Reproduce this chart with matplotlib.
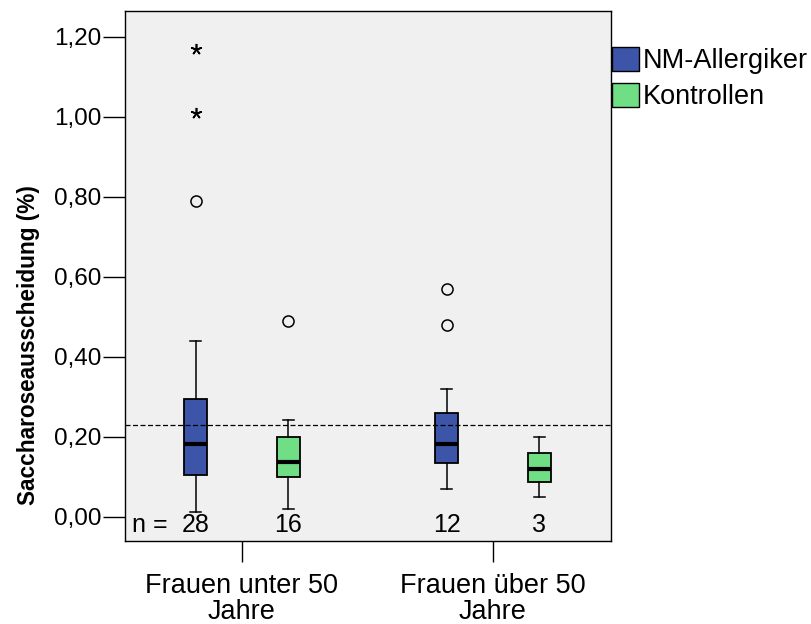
import matplotlib
matplotlib.use("Agg")
import matplotlib.pyplot as plt
from matplotlib.patches import Patch
from matplotlib.ticker import FuncFormatter

plt.rcParams['font.family'] = ['Liberation Sans', 'DejaVu Sans']

groups = ["Frauen unter 50\nJahre", "Frauen über 50\nJahre"]
series = ["NM-Allergiker", "Kontrollen"]
colors = ["#3c55a8", "#6fde84"]

# five-number summaries per group: (whislo, q1, med, q3, whishi)
allergiker = [(0.012, 0.105, 0.182, 0.296, 0.441), (0.071, 0.136, 0.182, 0.261, 0.321)]
kontrollen = [(0.021, 0.100, 0.137, 0.201, 0.242), (0.051, 0.087, 0.121, 0.161, 0.201)]
# outliers (circles) and extremes (stars)
allergiker_out = [[0.79], [0.48, 0.57]]
allergiker_ext = [[1.01, 1.17], []]
kontrollen_out = [[0.49], []]
kontrollen_ext = [[], []]
n_values = [[28, 16], [12, 3]]
ref_line = 0.231

fig = plt.figure(figsize=(8.11, 6.24), dpi=100)
ax = fig.add_axes([125 / 811, 1 - 541 / 624, 486 / 811, 530 / 624])
ax.set_facecolor("#f0f0f0")

offset = 0.185
width = 0.092
for s, (summ, outs, exts) in enumerate([(allergiker, allergiker_out, allergiker_ext),
                                        (kontrollen, kontrollen_out, kontrollen_ext)]):
    stats = []
    pos = []
    for g in range(len(groups)):
        lo, q1, med, q3, hi = summ[g]
        stats.append(dict(whislo=lo, q1=q1, med=med, q3=q3, whishi=hi, fliers=[]))
        pos.append(g + (-offset if s == 0 else offset))
    ax.bxp(stats, positions=pos, widths=width, patch_artist=True, showfliers=False,
           boxprops=dict(facecolor=colors[s], edgecolor="black", linewidth=1.3),
           medianprops=dict(color="black", linewidth=3),
           whiskerprops=dict(color="black", linewidth=1.1),
           capprops=dict(color="black", linewidth=1.1),
           capwidths=width / 2)
    for g in range(len(groups)):
        x = pos[g]
        if outs[g]:
            ax.plot([x] * len(outs[g]), outs[g], "o", mfc="none", mec="black", ms=8, mew=1.1)
        if exts[g]:
            ax.plot([x] * len(exts[g]), exts[g], marker=(5, 2, 0), ls="none",
                    color="black", ms=8, mew=1.2)
        ax.text(x, -0.021, str(n_values[g][s]), ha="center", va="center", fontsize=18)

ax.text(-0.367, -0.021, "n =", ha="center", va="center", fontsize=18)
ax.axhline(ref_line, color="black", linestyle=(0, (4, 2)), linewidth=0.9)

ax.set_xlim(-0.466, 1.470)
ax.set_ylim(-0.06, 1.265)
ax.set_xticks(range(len(groups)))
ax.set_xticklabels(groups, fontsize=19.5, linespacing=1.0)
ax.set_yticks([0, 0.2, 0.4, 0.6, 0.8, 1.0, 1.2])
ax.yaxis.set_major_formatter(FuncFormatter(lambda v, p: f"{v:.2f}".replace(".", ",")))
ax.tick_params(axis="y", labelsize=17.5, length=16, width=1, direction="out", pad=1)
ax.tick_params(axis="x", length=15, width=1, direction="out", pad=8)
ax.set_ylabel("Saccharoseausscheidung (%)", fontsize=16.3, fontweight="bold")
ax.yaxis.set_label_coords(-0.175, 0.37)
for sp in ax.spines.values():
    sp.set_linewidth(1)

handles = [Patch(facecolor=c, edgecolor="black", label=l) for c, l in zip(colors, series)]
fig.legend(handles=handles, loc="upper left", bbox_to_anchor=(612 / 811, 1 - 47 / 624),
           frameon=False, fontsize=19.5, handlelength=1.0, handleheight=1.0,
           handletextpad=0.12, labelspacing=0.3, borderaxespad=0, borderpad=0)

fig.savefig("out.png", dpi=100)
